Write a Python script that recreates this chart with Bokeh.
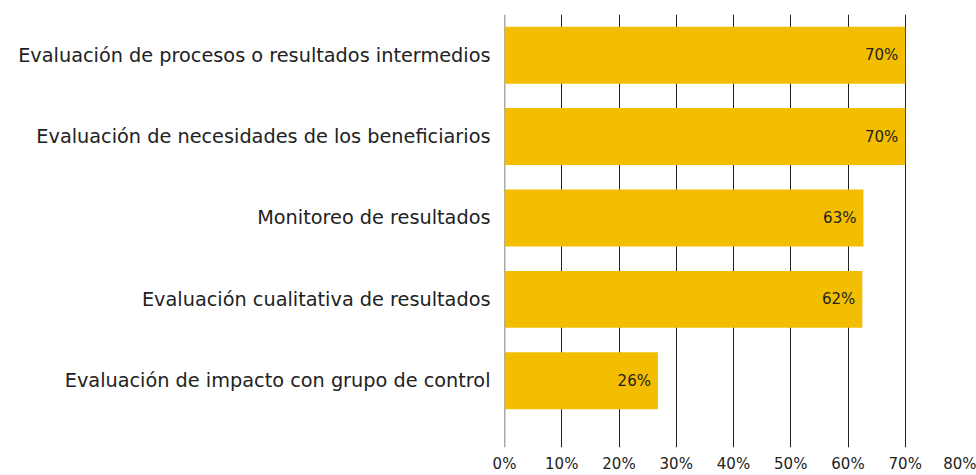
from bokeh.plotting import figure
from bokeh.models import ColumnDataSource, Range1d, FixedTicker, Span
from bokeh.core.properties import value
from bokeh.embed import file_html
from bokeh.resources import INLINE

categories = [
    "Evaluación de procesos o resultados intermedios",
    "Evaluación de necesidades de los beneficiarios",
    "Monitoreo de resultados",
    "Evaluación cualitativa de resultados",
    "Evaluación de impacto con grupo de control",
]
values = [70, 70, 62.7, 62.5, 26.8]
bar_labels = ["70%", "70%", "63%", "62%", "26%"]
x_ticks = [0, 10, 20, 30, 40, 50, 60, 70, 80]
x_tick_labels = ["0%", "10%", "20%", "30%", "40%", "50%", "60%", "70%", "80%"]

FONT = "DejaVu Sans"
n = len(categories)
ypos = [n - i for i in range(n)]

src = ColumnDataSource(dict(y=ypos, v=values, lab=bar_labels, cat=categories))

p = figure(width=976, height=475, output_backend="svg", toolbar_location=None,
           x_range=Range1d(0, 80), y_range=Range1d(0.18, n + 0.5),
           min_border_left=504, min_border_right=14, min_border_top=14,
           min_border_bottom=22)
p.outline_line_color = None
p.background_fill_color = "white"
p.border_fill_color = "white"

p.add_layout(Span(location=0, dimension="height", line_color="#555555",
                  line_width=1.5, level="underlay"))

p.hbar(y="y", right="v", left=0, height=0.7, source=src,
       fill_color="#F3BE00", line_color=None)
p.text(x="v", y="y", text="lab", source=src, x_offset=-7,
       text_align="right", text_baseline="middle",
       text_font=value(FONT), text_font_size="15px", text_color="#222222")

# x axis
p.xaxis.ticker = FixedTicker(ticks=x_ticks)
p.xaxis.major_label_overrides = {t: l for t, l in zip(x_ticks, x_tick_labels)}
p.xaxis.axis_line_color = None
p.xaxis.major_tick_line_color = None
p.xaxis.minor_tick_line_color = None
p.xaxis.major_label_standoff = 1
p.xaxis.major_label_text_font = FONT
p.xaxis.major_label_text_font_size = "15px"
p.xaxis.major_label_text_line_height = 1.0
p.xaxis.major_label_text_color = "#222222"

# y axis
p.yaxis.ticker = FixedTicker(ticks=ypos)
p.yaxis.major_label_overrides = {y: c for y, c in zip(ypos, categories)}
p.yaxis.axis_line_color = None
p.yaxis.major_tick_line_color = None
p.yaxis.minor_tick_line_color = None
p.yaxis.major_label_standoff = 8
p.yaxis.major_label_text_font = FONT
p.yaxis.major_label_text_font_size = "19.3px"
p.yaxis.major_label_text_color = "#222222"

p.xgrid.ticker = FixedTicker(ticks=x_ticks)
p.xgrid.grid_line_color = "#222222"
p.xgrid.grid_line_width = 1
p.ygrid.grid_line_color = None

open("out.html", "w").write(file_html(p, INLINE))
